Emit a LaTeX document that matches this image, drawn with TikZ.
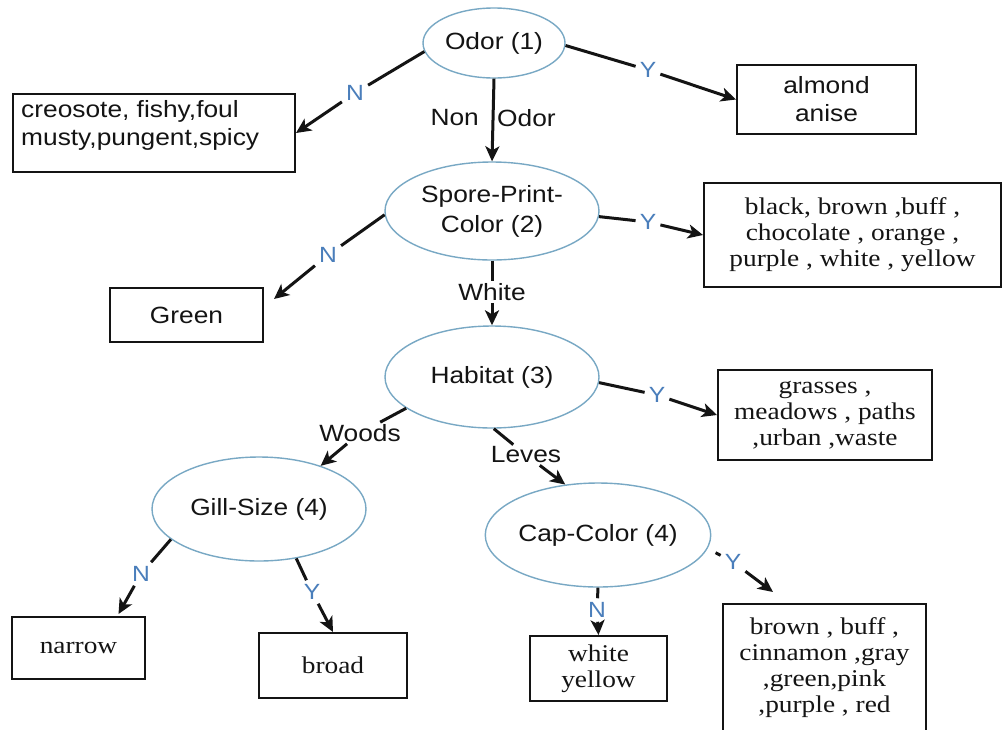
\documentclass[tikz,border=0pt]{standalone}
\usepackage{fontspec}
\newfontfamily\sansf{Liberation Sans}[FakeStretch=1.12]
\newfontfamily\seriff{Liberation Serif}[FakeStretch=1.14]
\usetikzlibrary{shapes.geometric,arrows.meta}
\definecolor{ellcol}{RGB}{120,168,196}
\definecolor{labblue}{RGB}{74,126,187}
\definecolor{ink}{RGB}{20,20,20}
\tikzset{
 ell/.style={ellipse, draw=ellcol, line width=1.4pt, fill=white, inner sep=0pt, text=ink, align=center, font=\sansf\fontsize{23.5}{28}\selectfont},
 box/.style={rectangle, draw=ink, line width=2pt, fill=white, inner sep=0pt, text=ink, align=center},
 sbox/.style={box, font=\sansf\fontsize{23.5}{28}\selectfont},
 tbox/.style={box, font=\seriff\fontsize{24}{26}\selectfont},
 txt/.style={inner sep=0pt, text=ink, font=\sansf\fontsize{23.5}{28}\selectfont},
 yn/.style={inner sep=4pt, text=labblue, font=\sansf\fontsize{22}{26}\selectfont},
 elab/.style={inner sep=2pt, text=ink, font=\sansf\fontsize{23.5}{28}\selectfont},
 seg/.style={draw=ink, line width=3pt},
 conn/.style={seg, -{Stealth[length=15pt,width=14pt,inset=4pt]}},
}
\begin{document}
\begin{tikzpicture}[x=1pt,y=-1pt]
\useasboundingbox (0,0) rectangle (1004,729);
\fill[white] (0,0) rectangle (1004,729);

% decision nodes and leaves
\node[ell, minimum width=142pt, minimum height=70pt] (odor) at (494,43) {Odor (1)};
\node[box, minimum width=282pt, minimum height=78pt] (creo) at (154,133) {};
\node[txt, anchor=north west, align=left] (creotxt) at (21,100) {creosote, fishy,foul\\musty,pungent,spicy};
\node[sbox, minimum width=179pt, minimum height=69pt] (almond) at (826.5,99.5) {almond\\anise};
\node[ell, minimum width=214pt, minimum height=98pt, font=\sansf\fontsize{23.5}{30}\selectfont] (spore) at (492,211) {Spore-Print-\\Color (2)};
\node[sbox, minimum width=153pt, minimum height=54pt] (green) at (186.5,315) {Green};
\node[tbox, minimum width=297pt, minimum height=104pt] (black) at (852.5,235) {black, brown ,buff ,\\chocolate , orange ,\\purple , white , yellow};
\node[ell, minimum width=214pt, minimum height=102pt] (habitat) at (492,377) {Habitat (3)};
\node[tbox, minimum width=214pt, minimum height=90pt] (grass) at (825,415) {grasses ,\\meadows , paths\\,urban ,waste};
\node[ell, minimum width=214pt, minimum height=104pt] (gill) at (259,509) {Gill-Size (4)};
\node[ell, minimum width=214pt, minimum height=104pt] (cap) at (598,535) {Cap-Color (4)};
\node[tbox, minimum width=133pt, minimum height=62pt] (narrow) at (78.5,648) {narrow};
\node[tbox, minimum width=148pt, minimum height=65pt] (broad) at (333,665.5) {broad};
\node[tbox, minimum width=137pt, minimum height=65pt] (wy) at (598.5,668.5) {white\\yellow};
\node[tbox, minimum width=203pt, minimum height=127pt] (brown) at (824.5,667.5) {brown , buff ,\\cinnamon ,gray\\,green,pink\\,purple , red};

% edge labels
\node[yn] (l1) at (355,93) {N};
\node[yn] (l2) at (648,70) {Y};
\node[elab, anchor=east] (lnon) at (481,118) {Non};
\node[elab, anchor=west] (lodor) at (495,118) {Odor};
\node[yn] (l3) at (328,255) {N};
\node[yn] (l4) at (648,222) {Y};
\node[elab] (lwhite) at (492,292) {White};
\node[yn] (l5) at (657,395) {Y};
\node[elab] (lwoods) at (360,433) {Woods};
\node[elab] (lleves) at (526,455) {Leves};
\node[yn] (l6) at (141,574) {N};
\node[yn] (l7) at (312,592) {Y};
\node[yn] (l8) at (597,610) {N};
\node[yn] (l9) at (733,562) {Y};

% connectors
\draw[seg] (odor.187) -- (l1); \draw[conn] (l1) -- (creo.east);
\draw[seg] (odor.-2) -- (l2); \draw[conn] (l2) -- (almond.west);
\draw[conn] (odor.south) -- (spore.north);
\draw[seg] (spore.182) -- (l3); \draw[conn] (l3) -- ([shift={(10,12)}]green.north east);
\draw[seg] (spore.-3) -- (l4); \draw[conn] (l4) -- (black.west);
\draw[seg] (spore.south) -- (lwhite); \draw[conn] (lwhite) -- (habitat.north);
\draw[seg] (habitat.-3) -- (l5); \draw[conn] (l5) -- (grass.west);
\draw[seg] (habitat.200) -- (lwoods); \draw[conn] (lwoods) -- (gill.35);
\draw[seg] (habitat.272) -- (lleves); \draw[conn] (lleves) -- (cap.123);
\draw[seg] (gill.199) -- (l6); \draw[conn] (l6) -- ([shift={(40,-2)}]narrow.north);
\draw[seg] (gill.-53) -- (l7); \draw[conn] (l7) -- (broad.north);
\draw[seg] (cap.south) -- (l8); \draw[conn] (l8) -- (wy.north);
\draw[seg, shorten <=9pt] (cap.-7) -- (l9); \draw[conn] (l9) -- ([shift={(-51.5,-11)}]brown.north);
\end{tikzpicture}
\end{document}
